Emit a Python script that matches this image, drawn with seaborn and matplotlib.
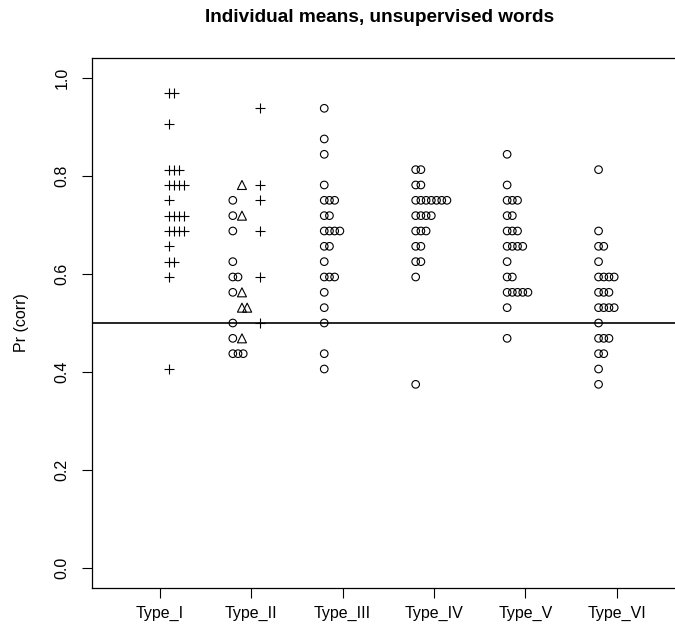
import numpy as np
import pandas as pd
import matplotlib
matplotlib.use("Agg")
import matplotlib.pyplot as plt
import seaborn as sns

# === Data (proportions in steps of 1/32) ===
categories = ["Type_I", "Type_II", "Type_III", "Type_IV", "Type_V", "Type_VI"]

type_i_plus = [0.96875, 0.96875, 0.90625, 0.8125, 0.8125, 0.8125,
               0.78125, 0.78125, 0.78125, 0.78125, 0.75,
               0.71875, 0.71875, 0.71875, 0.71875,
               0.6875, 0.6875, 0.6875, 0.6875, 0.65625,
               0.625, 0.625, 0.59375, 0.40625]

type_ii_circle = [0.75, 0.71875, 0.6875, 0.625, 0.59375, 0.59375,
                  0.5625, 0.5, 0.46875, 0.4375, 0.4375, 0.4375]
type_ii_triangle = [0.78125, 0.71875, 0.5625, 0.53125, 0.53125, 0.46875]
type_ii_plus = [0.9375, 0.78125, 0.75, 0.6875, 0.59375, 0.5]

type_iii_circle = [0.9375, 0.875, 0.84375, 0.78125, 0.75, 0.75, 0.75,
                   0.71875, 0.71875, 0.6875, 0.6875, 0.6875, 0.6875,
                   0.65625, 0.65625, 0.625, 0.59375, 0.59375, 0.59375,
                   0.5625, 0.53125, 0.5, 0.4375, 0.40625]

type_iv_circle = [0.8125, 0.8125, 0.78125, 0.78125,
                  0.75, 0.75, 0.75, 0.75, 0.75, 0.75, 0.75,
                  0.71875, 0.71875, 0.71875, 0.71875,
                  0.6875, 0.6875, 0.6875, 0.65625, 0.65625,
                  0.625, 0.625, 0.59375, 0.375]

type_v_circle = [0.84375, 0.78125, 0.75, 0.75, 0.75, 0.71875, 0.71875,
                 0.6875, 0.6875, 0.6875, 0.65625, 0.65625, 0.65625, 0.65625,
                 0.625, 0.59375, 0.59375,
                 0.5625, 0.5625, 0.5625, 0.5625, 0.5625, 0.53125, 0.46875]

type_vi_circle = [0.8125, 0.6875, 0.65625, 0.65625, 0.625,
                  0.59375, 0.59375, 0.59375, 0.59375,
                  0.5625, 0.5625, 0.5625,
                  0.53125, 0.53125, 0.53125, 0.53125, 0.5,
                  0.46875, 0.46875, 0.46875, 0.4375, 0.4375, 0.40625, 0.375]

# === Long table: (type, symbol, value) ===
groups = [
    ("Type_I", "plus", type_i_plus),
    ("Type_II", "circle", type_ii_circle),
    ("Type_II", "triangle", type_ii_triangle),
    ("Type_II", "plus", type_ii_plus),
    ("Type_III", "circle", type_iii_circle),
    ("Type_IV", "circle", type_iv_circle),
    ("Type_V", "circle", type_v_circle),
    ("Type_VI", "circle", type_vi_circle),
]
rows = [(t, s, v) for t, s, vals in groups for v in vals]
df = pd.DataFrame(rows, columns=["type", "symbol", "value"])

# stripchart(method="stack") style: each symbol has its own column offset,
# ties are stacked to the right
sym_offset = {"circle": -0.2, "triangle": -0.1, "plus": 0.1}
stack_step = 0.057
df["rank"] = df.groupby(["type", "symbol", "value"]).cumcount()
df["x"] = (df["type"].map({c: i + 1 for i, c in enumerate(categories)})
           + df["symbol"].map(sym_offset) + df["rank"] * stack_step)

# === Plot ===
sns.set_theme(style="white")
plt.rcParams["font.family"] = ["Liberation Sans", "DejaVu Sans"]
plt.rcParams["text.color"] = "black"

fig = plt.figure(figsize=(6.75, 6.32), dpi=100)
ax = fig.add_axes([92 / 675, 44 / 632, 592.5 / 675, 530 / 632])

sns.scatterplot(data=df[df.symbol == "circle"], x="x", y="value", ax=ax,
                marker="o", s=30, facecolor="none", edgecolor="black",
                linewidth=0.8, legend=False)
sns.scatterplot(data=df[df.symbol == "triangle"], x="x", y="value", ax=ax,
                marker="^", s=42, facecolor="none", edgecolor="black",
                linewidth=0.8, legend=False)
sns.scatterplot(data=df[df.symbol == "plus"], x="x", y="value", ax=ax,
                marker="+", s=48, color="black", linewidth=0.8, legend=False)

ax.axhline(0.5, color="black", lw=1.2)

ax.set_xlim(0.26, 6.74)
ax.set_ylim(-0.04, 1.04)
ax.set_xticks(range(1, len(categories) + 1))
ax.set_xticklabels(categories)
ax.set_yticks([0.0, 0.2, 0.4, 0.6, 0.8, 1.0])
ax.set_yticklabels(["0.0", "0.2", "0.4", "0.6", "0.8", "1.0"],
                   rotation=90, va="center")
ax.tick_params(axis="both", bottom=True, left=True, direction="out",
               length=7, width=0.8, color="black",
               labelsize=11.5, labelcolor="black")
ax.tick_params(axis="x", pad=6)
ax.tick_params(axis="y", pad=9)
ax.set_xlabel("")
ax.set_ylabel("")
for sp in ax.spines.values():
    sp.set_color("black")
    sp.set_linewidth(0.9)

# === Title and y label ===
fig.text(380 / 675, 1 - 17 / 632,
         "Individual means, unsupervised words",
         ha="center", va="center", fontsize=13.7, fontweight="bold",
         color="black")
fig.text(22 / 675, 1 - 323 / 632, "Pr (corr)", rotation=90,
         ha="center", va="center", fontsize=11.5, color="black")

plt.savefig("out.png", dpi=100)
